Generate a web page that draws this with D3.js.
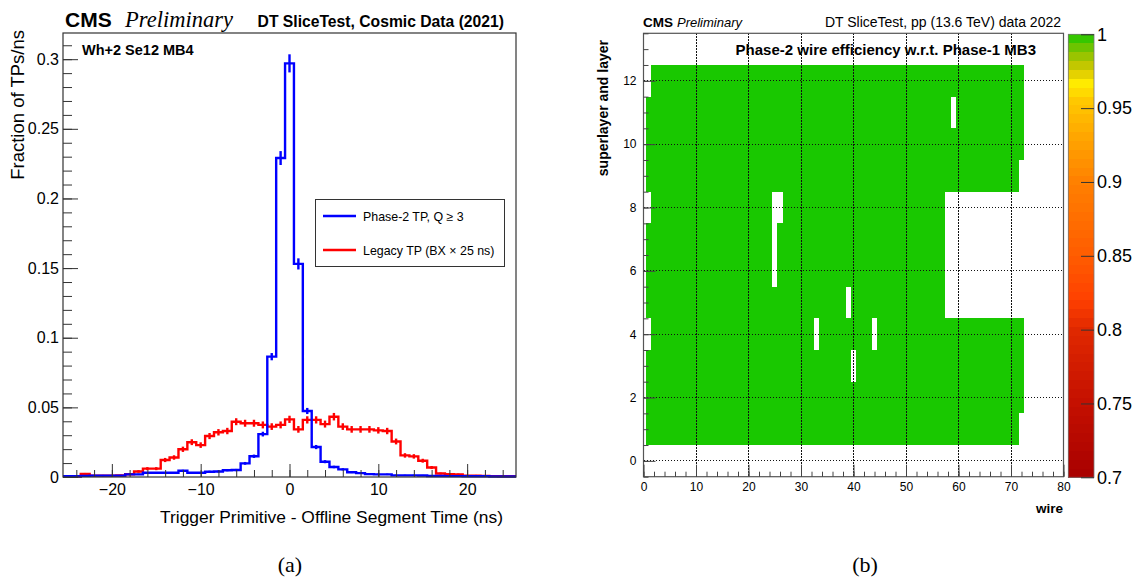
<!DOCTYPE html>
<html>
<head>
<meta charset="utf-8">
<script src="https://cdn.jsdelivr.net/npm/d3@7"></script>
<style>
  body { margin: 0; background: white; }
  text { font-family: "Liberation Sans", Arial, Helvetica, sans-serif; fill: black; }
  .serif { font-family: "Liberation Serif", "Times New Roman", serif; }
</style>
</head>
<body>
<div id="chart"></div>
<script>
// ---------- panel (a): TP time w.r.t. offline segment, 1 ns bins ----------
const binCenters = [-25, -24, -23, -22, -21, -20, -19, -18, -17, -16, -15, -14, -13, -12, -11, -10,
    -9, -8, -7, -6, -5, -4, -3, -2, -1, 0, 1, 2, 3, 4, 5, 6, 7, 8, 9, 10, 11, 12, 13, 14, 15, 16,
    17, 18, 19, 20, 21, 22, 23, 24, 25];
const binWidth = 1;

// Phase-2 TP, Q >= 3 (blue)
const phase2Values = [0.0005, 0.0005, 0.0008, 0.001, 0.001, 0.001, 0.001, 0.0019, 0.0019, 0.003,
    0.003, 0.003, 0.003, 0.0045, 0.003, 0.003, 0.0038, 0.004, 0.0048, 0.005, 0.0098, 0.0149,
    0.0308, 0.0864, 0.229, 0.297, 0.153, 0.0474, 0.0215, 0.011, 0.0072, 0.0055, 0.0034, 0.0028,
    0.0021, 0.0019, 0.0019, 0.0012, 0.0012, 0.0012, 0.0011, 0.0007, 0.0007, 0.0006, 0.0006,
    0.0005, 0.0005, 0.0005, 0.0004, 0.0004, 0.0004];
const phase2Errors = [0.0003, 0.0003, 0.0003, 0.0004, 0.0004, 0.0004, 0.0004, 0.0005, 0.0005, 0.0006,
    0.0006, 0.0006, 0.0006, 0.0007, 0.0006, 0.0006, 0.0007, 0.0007, 0.0007, 0.0008, 0.001, 0.0012,
    0.0017, 0.0026, 0.005, 0.0065, 0.004, 0.0022, 0.0015, 0.0011, 0.0009, 0.0008, 0.0006, 0.0006,
    0.0005, 0.0005, 0.0005, 0.0004, 0.0004, 0.0004, 0.0004, 0.0003, 0.0003, 0.0003, 0.0003,
    0.0003, 0.0003, 0.0003, 0.0003, 0.0003, 0.0003];

// Legacy TP (BX x 25 ns) (red)
const legacyValues = [0.0004, 0.0004, 0.0022, 0.001, 0.001, 0.001, 0.0011, 0.002, 0.004, 0.006,
    0.006, 0.0122, 0.014, 0.0199, 0.025, 0.0229, 0.0294, 0.0321, 0.033, 0.0397, 0.0386, 0.0386,
    0.0374, 0.0362, 0.0374, 0.0414, 0.0342, 0.041, 0.041, 0.038, 0.0433, 0.0362, 0.0342, 0.0342,
    0.0342, 0.0335, 0.033, 0.0255, 0.0155, 0.0148, 0.0117, 0.0068, 0.0025, 0.002, 0.0019, 0.001,
    0.001, 0.0008, 0.0006, 0.0005, 0.0005];
const legacyErrors = [0.0003, 0.0003, 0.0007, 0.0005, 0.0005, 0.0005, 0.0005, 0.0007, 0.0009, 0.0011,
    0.0011, 0.0015, 0.0016, 0.0019, 0.0021, 0.002, 0.0022, 0.0023, 0.0023, 0.0025, 0.0025, 0.0025,
    0.0025, 0.0024, 0.0025, 0.0026, 0.0024, 0.0026, 0.0026, 0.0025, 0.0027, 0.0024, 0.0024, 0.0024,
    0.0024, 0.0023, 0.0023, 0.0021, 0.0016, 0.0016, 0.0014, 0.0011, 0.0007, 0.0006, 0.0006, 0.0005,
    0.0005, 0.0004, 0.0004, 0.0003, 0.0003];

const xTicksA = [-20, -10, 0, 10, 20];
const xTickLabelsA = ["\u221220", "\u221210", "0", "10", "20"];
const yTicksA = [0, 0.05, 0.1, 0.15, 0.2, 0.25, 0.3];
const yTickLabelsA = ["0", "0.05", "0.1", "0.15", "0.2", "0.25", "0.3"];

// ---------- panel (b): wire efficiency map ----------
const layers = [1, 2, 3, 4, 5, 6, 7, 8, 9, 10, 11, 12];
const firstWire = [1, 1, 1, 2, 1, 1, 1, 2, 1, 1, 1, 2];
const lastWire = [71, 72, 72, 72, 57, 57, 57, 57, 71, 72, 72, 72];
const cellEfficiency = 1;
// [wire, layer] cells with no entry
const deadCells = [[59, 11], [25, 8], [26, 8], [25, 7], [25, 6], [39, 5], [33, 4], [44, 4], [40, 3]];

const xTicksB = [0, 10, 20, 30, 40, 50, 60, 70, 80];
const yTicksB = [0, 2, 4, 6, 8, 10, 12];
const zTicks = [0.7, 0.75, 0.8, 0.85, 0.9, 0.95, 1];
const zTickLabels = ["0.7", "0.75", "0.8", "0.85", "0.9", "0.95", "1"];
const paletteStops = [0.7, 0.75, 0.8, 0.82, 0.85, 0.9, 0.93, 0.955, 0.968, 0.974, 0.982, 0.992, 1.0];
const paletteColors = ["#a80000", "#c41000", "#e02800", "#ff4000", "#ff5c00", "#ff8000", "#ffa500",
    "#ffc800", "#ffee00", "#e0cc00", "#b0c400", "#66c400", "#19c800"];

const W = 1135, H = 577;
const svg = d3.select("#chart").append("svg")
    .attr("width", W)
    .attr("height", H)
    .style("background", "white");

// ======================= panel (a) =======================
const frameA = { left: 63, right: 516, top: 33, bottom: 477 };
const xA = d3.scaleLinear().domain([-25.5, 25.5]).range([frameA.left, frameA.right]);
const yA = d3.scaleLinear().domain([0, 0.3188]).range([frameA.bottom, frameA.top]);

const gA = svg.append("g");

// histogram as steps
function stepPoints(values) {
    const pts = [];
    binCenters.forEach((c, i) => {
        pts.push([c - binWidth / 2, values[i]]);
        pts.push([c + binWidth / 2, values[i]]);
    });
    return pts;
}
const stepLine = d3.line().x(d => xA(d[0])).y(d => yA(d[1]));

function drawHist(values, errors, colour) {
    gA.append("path")
        .attr("d", stepLine(stepPoints(values)))
        .attr("fill", "none")
        .attr("stroke", colour)
        .attr("stroke-width", 2.4)
        .attr("stroke-linejoin", "miter");
    gA.selectAll(null)
        .data(binCenters)
        .enter().append("line")
        .attr("x1", d => xA(d))
        .attr("x2", d => xA(d))
        .attr("y1", (d, i) => yA(values[i] - errors[i]))
        .attr("y2", (d, i) => yA(values[i] + errors[i]))
        .attr("stroke", colour)
        .attr("stroke-width", 2.4);
}
drawHist(legacyValues, legacyErrors, "#ff0000");
drawHist(phase2Values, phase2Errors, "#0000ff");

// frame
gA.append("rect")
    .attr("x", frameA.left).attr("y", frameA.top)
    .attr("width", frameA.right - frameA.left)
    .attr("height", frameA.bottom - frameA.top)
    .attr("fill", "none")
    .attr("stroke", "#333")
    .attr("stroke-width", 1.2);

// y axis (ticks point inward)
const yAxisA = gA.append("g")
    .attr("transform", `translate(${frameA.left},0)`)
    .call(d3.axisLeft(yA).tickValues(yTicksA).tickSize(-15).tickPadding(4)
        .tickFormat((d, i) => yTickLabelsA[i]));
yAxisA.append("g")
    .call(d3.axisLeft(yA).tickValues(d3.range(0, 0.3188, 0.01)).tickSize(-9).tickFormat(""));
yAxisA.selectAll("path.domain").remove();
yAxisA.selectAll("line").attr("stroke", "#333");
yAxisA.selectAll("text").attr("font-size", "16px").attr("fill", "black")
    .style("font-family", "Liberation Sans, Arial, sans-serif");

// x axis
const xAxisA = gA.append("g")
    .attr("transform", `translate(0,${frameA.bottom})`)
    .call(d3.axisBottom(xA).tickValues(xTicksA).tickSize(-13).tickPadding(7)
        .tickFormat((d, i) => xTickLabelsA[i]));
xAxisA.append("g")
    .call(d3.axisBottom(xA).tickValues(d3.range(-24, 25, 2)).tickSize(-7).tickFormat(""));
xAxisA.selectAll("path.domain").remove();
xAxisA.selectAll("line").attr("stroke", "#333");
xAxisA.selectAll("text").attr("font-size", "16px").attr("fill", "black")
    .style("font-family", "Liberation Sans, Arial, sans-serif");

// axis titles
gA.append("text")
    .attr("transform", "rotate(-90)")
    .attr("x", -30)
    .attr("y", 24)
    .attr("text-anchor", "end")
    .attr("font-size", "18.5px")
    .text("Fraction of TPs/ns");

gA.append("text")
    .attr("x", 503)
    .attr("y", 523)
    .attr("text-anchor", "end")
    .attr("font-size", "17px")
    .attr("textLength", 343)
    .attr("lengthAdjust", "spacingAndGlyphs")
    .text("Trigger Primitive - Offline Segment Time (ns)");

// header
gA.append("text").attr("x", 65).attr("y", 27)
    .attr("font-size", "21px").attr("font-weight", "bold").text("CMS");
gA.append("text").attr("class", "serif").attr("x", 125).attr("y", 27)
    .attr("font-size", "22.5px").attr("font-style", "italic").text("Preliminary");
gA.append("text").attr("x", 504).attr("y", 27)
    .attr("text-anchor", "end")
    .attr("font-size", "15.7px").attr("font-weight", "bold")
    .text("DT SliceTest, Cosmic Data (2021)");
gA.append("text").attr("x", 82).attr("y", 55)
    .attr("font-size", "14.5px").attr("font-weight", "bold")
    .text("Wh+2 Se12 MB4");

// legend
const legendA = gA.append("g");
legendA.append("rect")
    .attr("x", 315.5).attr("y", 199.5)
    .attr("width", 189).attr("height", 67)
    .attr("fill", "white")
    .attr("stroke", "#333");
[["Phase-2 TP, Q \u2265 3", "#0000ff", 216], ["Legacy TP (BX \u00d7 25 ns)", "#ff0000", 250]]
    .forEach(([label, colour, yy]) => {
        legendA.append("line")
            .attr("x1", 323).attr("x2", 356)
            .attr("y1", yy).attr("y2", yy)
            .attr("stroke", colour).attr("stroke-width", 2.4);
        legendA.append("text")
            .attr("x", 363).attr("y", yy + 4.5)
            .attr("font-size", "12.4px")
            .text(label);
    });

svg.append("text").attr("class", "serif")
    .attr("x", 290).attr("y", 572)
    .attr("text-anchor", "middle")
    .attr("font-size", "22px")
    .text("(a)");

// ======================= panel (b) =======================
const frameB = { left: 643.5, right: 1063.5, top: 33.3, bottom: 476.7 };
const xB = d3.scaleLinear().domain([0, 80]).range([frameB.left, frameB.right]);
const yB = d3.scaleLinear().domain([-0.5, 13.5]).range([frameB.bottom, frameB.top]);
const colour = d3.scaleLinear().domain(paletteStops).range(paletteColors)
    .interpolate(d3.interpolateRgb).clamp(true);

const gB = svg.append("g");

// cells
const deadSet = new Set(deadCells.map(d => d[0] + "_" + d[1]));
const cells = [];
layers.forEach((layer, i) => {
    for (let w = firstWire[i]; w <= lastWire[i]; w++) {
        if (!deadSet.has(w + "_" + layer)) cells.push({ wire: w, layer: layer, eff: cellEfficiency });
    }
});
gB.selectAll(".cell")
    .data(cells)
    .enter().append("rect")
    .attr("class", "cell")
    .attr("x", d => xB(d.wire - 0.5))
    .attr("y", d => yB(d.layer + 0.5))
    .attr("width", d => xB(d.wire + 0.5) - xB(d.wire - 0.5))
    .attr("height", d => yB(d.layer - 0.5) - yB(d.layer + 0.5))
    .attr("fill", d => colour(d.eff))
    .attr("shape-rendering", "crispEdges");

// dotted grid on top
gB.selectAll(".vgrid")
    .data(xTicksB.filter(d => d > 0 && d < 80))
    .enter().append("line")
    .attr("x1", d => xB(d)).attr("x2", d => xB(d))
    .attr("y1", frameB.top).attr("y2", frameB.bottom)
    .attr("stroke", "#111").attr("stroke-width", 1)
    .attr("stroke-dasharray", "1.5,1.5")
    .attr("shape-rendering", "crispEdges");
gB.selectAll(".hgrid")
    .data(yTicksB)
    .enter().append("line")
    .attr("x1", frameB.left).attr("x2", frameB.right)
    .attr("y1", d => yB(d)).attr("y2", d => yB(d))
    .attr("stroke", "#111").attr("stroke-width", 1)
    .attr("stroke-dasharray", "1.5,1.5")
    .attr("shape-rendering", "crispEdges");

gB.append("rect")
    .attr("x", frameB.left).attr("y", frameB.top)
    .attr("width", frameB.right - frameB.left)
    .attr("height", frameB.bottom - frameB.top)
    .attr("fill", "none")
    .attr("stroke", "#555")
    .attr("stroke-width", 1.2);

const yAxisB = gB.append("g")
    .attr("transform", `translate(${frameB.left},0)`)
    .call(d3.axisLeft(yB).tickValues(yTicksB).tickSize(-12).tickPadding(7));
yAxisB.append("g")
    .call(d3.axisLeft(yB).tickValues(d3.range(-0.5, 13.6, 0.5)).tickSize(-5).tickFormat(""));
yAxisB.selectAll("path.domain").remove();
yAxisB.selectAll("line").attr("stroke", "#444");
yAxisB.selectAll("text").attr("font-size", "12px").attr("fill", "black")
    .style("font-family", "Liberation Sans, Arial, sans-serif");

const xAxisB = gB.append("g")
    .attr("transform", `translate(0,${frameB.bottom})`)
    .call(d3.axisBottom(xB).tickValues(xTicksB).tickSize(-12).tickPadding(6));
xAxisB.append("g")
    .call(d3.axisBottom(xB).tickValues(d3.range(0, 81, 2)).tickSize(-5).tickFormat(""));
xAxisB.selectAll("path.domain").remove();
xAxisB.selectAll("line").attr("stroke", "#444");
xAxisB.selectAll("text").attr("font-size", "12px").attr("fill", "black")
    .style("font-family", "Liberation Sans, Arial, sans-serif");

gB.append("text")
    .attr("transform", "rotate(-90)")
    .attr("x", -40).attr("y", 608)
    .attr("text-anchor", "end")
    .attr("font-size", "14px").attr("font-weight", "bold")
    .text("superlayer and layer");
gB.append("text")
    .attr("x", 1063).attr("y", 513)
    .attr("text-anchor", "end")
    .attr("font-size", "13.5px").attr("font-weight", "bold")
    .text("wire");

// header
gB.append("text").attr("x", 643).attr("y", 27)
    .attr("font-size", "13.5px").attr("font-weight", "bold").text("CMS");
gB.append("text").attr("x", 677).attr("y", 27)
    .attr("font-size", "13px").attr("font-style", "italic").text("Preliminary");
gB.append("text").attr("x", 1061).attr("y", 27)
    .attr("text-anchor", "end")
    .attr("font-size", "14px")
    .text("DT SliceTest, pp (13.6 TeV) data 2022");
gB.append("text").attr("x", 1036).attr("y", 55)
    .attr("text-anchor", "end")
    .attr("font-size", "15px").attr("font-weight", "bold")
    .text("Phase-2 wire efficiency w.r.t. Phase-1 MB3");

// colour bar
const zScale = d3.scaleLinear().domain([0.7, 1]).range([477.3, 34.3]);
const bar = { left: 1068.3, right: 1094 };
const bands = d3.range(0.7, 0.9999, 0.006);
gB.selectAll(".band")
    .data(bands)
    .enter().append("rect")
    .attr("x", bar.left)
    .attr("width", bar.right - bar.left)
    .attr("y", d => zScale(Math.min(d + 0.006, 1)))
    .attr("height", d => zScale(d) - zScale(Math.min(d + 0.006, 1)) + 0.3)
    .attr("fill", d => colour(d + 0.003))
    .attr("shape-rendering", "crispEdges");
gB.append("rect")
    .attr("x", bar.left).attr("y", zScale(1))
    .attr("width", bar.right - bar.left).attr("height", zScale(0.7) - zScale(1))
    .attr("fill", "none").attr("stroke", "#777").attr("stroke-width", 0.8);
const zAxis = gB.append("g")
    .attr("transform", `translate(${bar.right},0)`)
    .call(d3.axisRight(zScale).tickValues(zTicks).tickSize(-13).tickPadding(3)
        .tickFormat((d, i) => zTickLabels[i]));
zAxis.selectAll("path.domain").remove();
zAxis.selectAll("line").attr("stroke", "#333");
zAxis.selectAll("text").attr("font-size", "18px").attr("fill", "black")
    .style("font-family", "Liberation Sans, Arial, sans-serif");

svg.append("text").attr("class", "serif")
    .attr("x", 865).attr("y", 572)
    .attr("text-anchor", "middle")
    .attr("font-size", "22px")
    .text("(b)");
</script>
</body>
</html>
